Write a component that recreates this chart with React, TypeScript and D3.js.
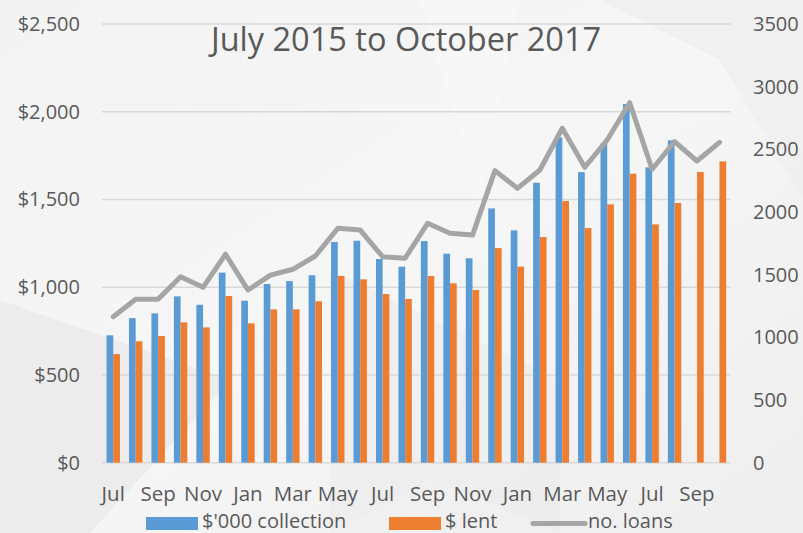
import React, { useEffect, useRef } from "react";
import * as d3 from "d3";

const months = [
  "Jul", "Aug", "Sep", "Oct", "Nov", "Dec",
  "Jan", "Feb", "Mar", "Apr", "May", "Jun",
  "Jul", "Aug", "Sep", "Oct", "Nov", "Dec",
  "Jan", "Feb", "Mar", "Apr", "May", "Jun",
  "Jul", "Aug", "Sep", "Oct",
];
const monthKeys = months.map((m, i) => `${m}-${i}`);

// $'000 collection (none yet for the last two months)
const collection: (number | null)[] = [
  726, 824, 851, 948, 900, 1083, 923, 1018, 1035, 1068, 1258, 1265,
  1161, 1117, 1263, 1191, 1165, 1449, 1324, 1595, 1854, 1656, 1820, 2044,
  1683, 1837, null, null,
];
const lent = [
  619, 692, 722, 800, 771, 950, 794, 874, 874, 920, 1064, 1045,
  961, 933, 1064, 1022, 984, 1223, 1117, 1286, 1491, 1337, 1472, 1647,
  1358, 1480, 1656, 1717,
];
const loans = [
  1165, 1304, 1305, 1484, 1399, 1663, 1378, 1497, 1543, 1649, 1870, 1856,
  1643, 1631, 1910, 1830, 1816, 2330, 2189, 2335, 2668, 2357, 2575, 2872,
  2341, 2561, 2407, 2556,
];

const leftTicks = [0, 500, 1000, 1500, 2000, 2500];
const rightTicks = [0, 500, 1000, 1500, 2000, 2500, 3000, 3500];
const legendItems = ["$'000 collection", "$ lent", "no. loans"];

const BLUE = "#5b9bd5";
const ORANGE = "#ed7d31";
const GREY = "#a5a5a5";
const TEXT = "#595959";
const FONT = "'Open Sans', 'Noto Sans', sans-serif";

const App: React.FC = () => {
  const svgRef = useRef<SVGSVGElement | null>(null);

  useEffect(() => {
    if (!svgRef.current) return;
    const svg = d3.select(svgRef.current);
    svg.selectAll("*").remove();

    const width = 803;
    const height = 533;
    svg.attr("width", width).attr("height", height);

    // background
    const defs = svg.append("defs");
    const grad = defs.append("linearGradient").attr("id", "bg")
      .attr("x1", "0").attr("y1", "0").attr("x2", "1").attr("y2", "1");
    grad.append("stop").attr("offset", "0").attr("stop-color", "#f3f3f3");
    grad.append("stop").attr("offset", "0.5").attr("stop-color", "#f6f6f6");
    grad.append("stop").attr("offset", "1").attr("stop-color", "#eeeeee");
    svg.append("rect").attr("width", width).attr("height", height).attr("fill", "url(#bg)");
    const shapes = [
      { pts: "0,300 230,380 90,533 0,533", fill: "#e6e6e6" },
      { pts: "330,533 430,480 560,533", fill: "#fbfbfb" },
      { pts: "600,0 803,0 803,200 720,60", fill: "#ececec" },
      { pts: "420,0 520,0 480,200", fill: "#f8f8f8" },
      { pts: "330,270 560,380 560,533 330,533", fill: "#ebebeb" },
    ];
    svg.selectAll("polygon.bgshape").data(shapes).enter().append("polygon")
      .attr("class", "bgshape")
      .attr("points", d => d.pts)
      .attr("fill", d => d.fill)
      .attr("opacity", 0.6);

    const x0 = 102, x1 = 730.7;
    const yTop = 24, yBot = 462.7;

    const x = d3.scaleBand().domain(monthKeys).range([x0, x1]).paddingInner(0).paddingOuter(0);
    const xs = d3.scaleBand().domain(["c", "l"]).range([0, x.bandwidth()])
      .paddingInner(0).paddingOuter(0.675);
    const yL = d3.scaleLinear().domain([0, 2500]).range([yBot, yTop]);
    const yR = d3.scaleLinear().domain([0, 3500]).range([yBot, yTop]);

    // gridlines
    svg.append("g").selectAll("line").data(leftTicks).enter().append("line")
      .attr("x1", x0).attr("x2", x1)
      .attr("y1", d => yL(d)).attr("y2", d => yL(d))
      .attr("stroke", "#d9d9d9").attr("stroke-width", 1.5);

    // axes labels
    svg.append("g").selectAll("text").data(leftTicks).enter().append("text")
      .attr("x", 80).attr("y", d => yL(d)).attr("dy", "0.35em")
      .attr("text-anchor", "end").attr("fill", TEXT)
      .style("font-family", FONT).style("font-size", "20px")
      .text(d => "$" + d3.format(",")(d));

    svg.append("g").selectAll("text").data(rightTicks).enter().append("text")
      .attr("x", 753).attr("y", d => yR(d)).attr("dy", "0.35em")
      .attr("text-anchor", "start").attr("fill", TEXT)
      .style("font-family", FONT).style("font-size", "20px")
      .text(d => String(d));

    svg.append("g").selectAll("text")
      .data(monthKeys.filter((_, i) => i % 2 === 0)).enter().append("text")
      .attr("x", d => x(d)! + x.bandwidth() / 2).attr("y", 501)
      .attr("text-anchor", "middle").attr("fill", TEXT)
      .style("font-family", FONT).style("font-size", "20.5px")
      .text(d => d.split("-")[0]);

    // bars
    const bars = svg.append("g");
    bars.selectAll("rect.c").data(monthKeys.map((k, i) => ({ k, v: collection[i] })).filter(d => d.v != null))
      .enter().append("rect").attr("class", "c")
      .attr("x", d => x(d.k)! + xs("c")!)
      .attr("width", xs.bandwidth())
      .attr("y", d => yL(d.v as number))
      .attr("height", d => yBot - yL(d.v as number))
      .attr("fill", BLUE);
    bars.selectAll("rect.l").data(monthKeys.map((k, i) => ({ k, v: lent[i] })))
      .enter().append("rect").attr("class", "l")
      .attr("x", d => x(d.k)! + xs("l")!)
      .attr("width", xs.bandwidth())
      .attr("y", d => yL(d.v))
      .attr("height", d => yBot - yL(d.v))
      .attr("fill", ORANGE);

    // line
    const line = d3.line<number>()
      .x((_, i) => x(monthKeys[i])! + x.bandwidth() / 2)
      .y(d => yR(d));
    svg.append("path").datum(loans)
      .attr("d", line)
      .attr("fill", "none").attr("stroke", GREY).attr("stroke-width", 5)
      .attr("stroke-linejoin", "round").attr("stroke-linecap", "round");

    // title
    svg.append("text")
      .attr("x", 406).attr("y", 51).attr("text-anchor", "middle")
      .attr("fill", TEXT).style("font-family", FONT).style("font-size", "32.5px")
      .text("July 2015 to October 2017");

    // legend
    const lg = svg.append("g").style("font-family", FONT).style("font-size", "20px");
    const legendX = [146, 389, 531];
    const legendTextX = [202, 445, 588];
    legendItems.forEach((name, i) => {
      if (i < 2) {
        lg.append("rect").attr("x", legendX[i]).attr("y", 517)
          .attr("width", 52).attr("height", 13).attr("fill", i === 0 ? BLUE : ORANGE);
      } else {
        lg.append("line").attr("x1", legendX[i] + 2).attr("x2", legendX[i] + 54)
          .attr("y1", 523.5).attr("y2", 523.5)
          .attr("stroke", GREY).attr("stroke-width", 5).attr("stroke-linecap", "round");
      }
      lg.append("text").attr("x", legendTextX[i]).attr("y", 528)
        .attr("fill", TEXT).text(name);
    });
  }, []);

  return <svg ref={svgRef} style={{ position: "absolute", left: 0, top: 0 }}></svg>;
};

export default App;
